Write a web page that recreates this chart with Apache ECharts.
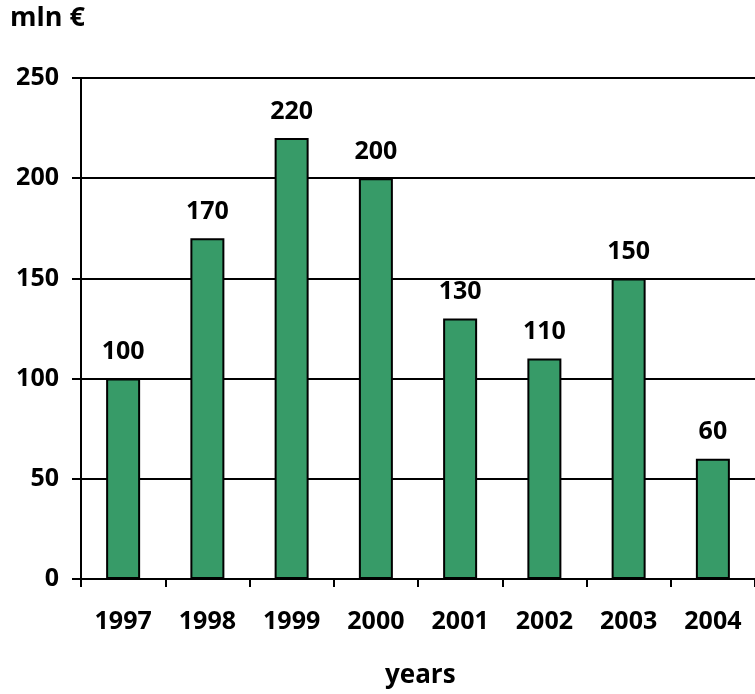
<!DOCTYPE html>
<html>
<head>
<meta charset="utf-8">
<script src="https://cdn.jsdelivr.net/npm/echarts@6/dist/echarts.min.js"></script>
<style>
  html, body { margin: 0; padding: 0; background: #fff; }
  #chart { width: 755px; height: 694px; }
</style>
</head>
<body>
<div id="chart"></div>
<script>
var years = ['1997', '1998', '1999', '2000', '2001', '2002', '2003', '2004']
var values = [100, 170, 220, 200, 130, 110, 150, 60]
var yTicks = [0, 50, 100, 150, 200, 250]

var font = '"Open Sans", sans-serif'
var myChart = echarts.init(document.getElementById('chart'))
var option = {
  animation: false,
  textStyle: { fontFamily: font },
  graphic: [
    {
      type: 'text', left: 10, top: 5,
      style: { text: 'mln €', font: 'bold 27px ' + font, fill: '#000' }
    },
    {
      type: 'text', left: 385, top: 663,
      style: { text: 'years', font: 'bold 26px ' + font, fill: '#000' }
    }
  ],
  grid: {
    left: 81,
    top: 78,
    width: 680,
    height: 501
  },
  xAxis: {
    type: 'category',
    data: years,
    axisLine: { lineStyle: { color: '#000', width: 2 } },
    axisTick: { show: true, length: 8, lineStyle: { color: '#000', width: 2 } },
    axisLabel: { color: '#000', fontWeight: 'bold', fontSize: 25, margin: 30, fontFamily: font }
  },
  yAxis: {
    type: 'value',
    min: yTicks[0],
    max: yTicks[yTicks.length - 1],
    interval: 50,
    axisLine: { show: true, lineStyle: { color: '#000', width: 2 } },
    axisTick: { show: true, length: 9, lineStyle: { color: '#000', width: 2 } },
    axisLabel: { color: '#000', fontWeight: 'bold', fontSize: 25, margin: 22, fontFamily: font },
    splitLine: { show: true, lineStyle: { color: '#000', width: 2 } }
  },
  series: [
    {
      type: 'bar',
      data: values,
      barWidth: 34,
      itemStyle: { color: '#379b68', borderColor: '#000', borderWidth: 2 },
      label: {
        show: true,
        position: 'top',
        distance: 14,
        color: '#000',
        fontWeight: 'bold',
        fontSize: 25,
        fontFamily: font
      }
    }
  ]
}
myChart.setOption(option)
</script>
</body>
</html>
